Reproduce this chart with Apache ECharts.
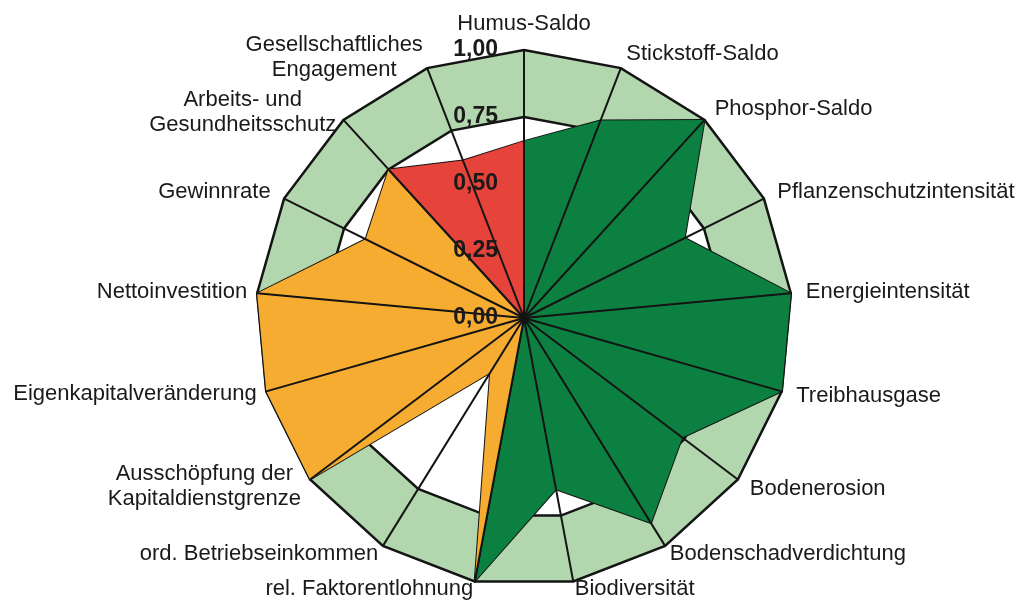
<!DOCTYPE html>
<html>
<head>
<meta charset="utf-8">
<title>Nachhaltigkeitsprofil</title>
<script src="https://cdn.jsdelivr.net/npm/echarts@6/dist/echarts.min.js"></script>
<style>
  html, body { margin: 0; padding: 0; background: #fff; }
  #chart { width: 1023px; height: 601px; }
</style>
</head>
<body>
<div id="chart"></div>
<script>
  // Indikatoren im Uhrzeigersinn, oben beginnend
  var indikatoren = [
    'Humus-Saldo', 'Stickstoff-Saldo', 'Phosphor-Saldo', 'Pflanzenschutzintensität',
    'Energieintensität', 'Treibhausgase', 'Bodenerosion', 'Bodenschadverdichtung',
    'Biodiversität', 'rel. Faktorentlohnung', 'ord. Betriebseinkommen',
    'Ausschöpfung der\nKapitaldienstgrenze', 'Eigenkapitalveränderung', 'Nettoinvestition',
    'Gewinnrate', 'Arbeits- und\nGesundheitsschutz', 'Gesellschaftliches\nEngagement'
  ]
  var tickLabels = ['0,00', '0,25', '0,50', '0,75', '1,00']

  // Ökologie (grün)
  var oekologie = [0.66, 0.79, 1.00, 0.67, 1.00, 1.00, 0.74, 0.90, 0.65, 1.00, 0, 0, 0, 0, 0, 0, 0]
  // Ökonomie (orange)
  var oekonomie = [0, 0, 0, 0, 0, 0, 0, 0, 0, 1.00, 0.24, 1.00, 1.00, 1.00, 0.66, 0.75, 0]
  // Soziales (rot)
  var soziales = [0.66, 0, 0, 0, 0, 0, 0, 0, 0, 0, 0, 0, 0, 0, 0, 0.75, 0.63]

  // Abstand Name - Achsenende, nur wo nötig
  var nameGaps = { 7: 9, 8: 8, 9: 8, 10: 9, 11: 11, 12: 10, 13: 10, 15: 10, 16: 11 }

  var fontFamily = '"Liberation Sans", Arial, sans-serif'
  var ctx = document.createElement('canvas').getContext('2d')
  ctx.font = '22px ' + fontFamily

  // ECharts zeichnet gegen den Uhrzeigersinn -> Reihenfolge drehen
  function ccw (arr) {
    return [arr[0]].concat(arr.slice(1).reverse())
  }

  var rich = {}
  var topIndicator = []
  var baseIndicator = []
  indikatoren.forEach(function (name, i) {
    var item = { name: name, min: 0, max: 1 }
    var lines = name.split('\n')
    if (lines.length > 1) { // mehrzeilig: Zeilen zentriert
      var w = Math.max.apply(null, lines.map(function (l) { return ctx.measureText(l).width }))
      rich['z' + i] = { width: Math.ceil(w), align: 'center', fontSize: 22, lineHeight: 25, fontFamily: fontFamily, color: '#1a1a1a' }
      item.name = lines.map(function (l) { return '{z' + i + '|' + l + '}' }).join('\n')
    }
    if (nameGaps[i] != null) item.nameGap = nameGaps[i]
    if (i === 0) item.axisLabel = { show: true }
    topIndicator.push(item)
    baseIndicator.push({ name: name, min: 0, max: 1 })
  })

  var myChart = echarts.init(document.getElementById('chart'))
  var option = {
    animation: false,
    radar: [{
      // Hintergrund: Band 0,75 - 1,00 und Ringe
      indicator: ccw(baseIndicator),
      center: [524, 318],
      radius: 268,
      startAngle: 90,
      splitNumber: 4,
      shape: 'polygon',
      z: 0,
      axisName: { show: false },
      axisLine: { show: false },
      axisTick: { show: false },
      axisLabel: { show: false },
      splitArea: {
        show: true,
        areaStyle: { color: ['#ffffff', '#ffffff', '#ffffff', '#b2d7ae', '#b2d7ae'], opacity: 1 }
      },
      splitLine: {
        show: true,
        lineStyle: {
          color: ['rgba(0,0,0,0)', 'rgba(0,0,0,0)', 'rgba(0,0,0,0)', '#141414', '#141414'],
          width: 2.5
        }
      }
    }, {
      // Achsen und Beschriftung über den Flächen
      indicator: ccw(topIndicator),
      center: [524, 318],
      radius: 268,
      startAngle: 90,
      splitNumber: 4,
      shape: 'polygon',
      z: 3,
      axisName: {
        color: '#1a1a1a',
        fontSize: 22,
        fontFamily: fontFamily,
        rich: rich
      },
      axisNameGap: 15,
      axisLine: { show: true, lineStyle: { color: '#141414', width: 2 } },
      axisTick: { show: false },
      axisLabel: {
        show: false,
        margin: 26,
        color: '#1a1a1a',
        fontSize: 23,
        fontWeight: 'bold',
        fontFamily: fontFamily,
        formatter: function (v) {
          return tickLabels[Math.round(v / 0.25)]
        }
      },
      splitArea: { show: false },
      splitLine: { show: false }
    }],
    series: [{
      type: 'radar',
      radarIndex: 0,
      z: 2,
      symbol: 'none',
      lineStyle: { color: '#141414', width: 2 },
      data: [
        { name: 'Ökologie', value: ccw(oekologie), areaStyle: { color: '#0b8040', opacity: 1 } },
        { name: 'Ökonomie', value: ccw(oekonomie), areaStyle: { color: '#f6ac31', opacity: 1 } },
        { name: 'Soziales', value: ccw(soziales), areaStyle: { color: '#e6433a', opacity: 1 } }
      ]
    }]
  }
  myChart.setOption(option)
</script>
</body>
</html>
